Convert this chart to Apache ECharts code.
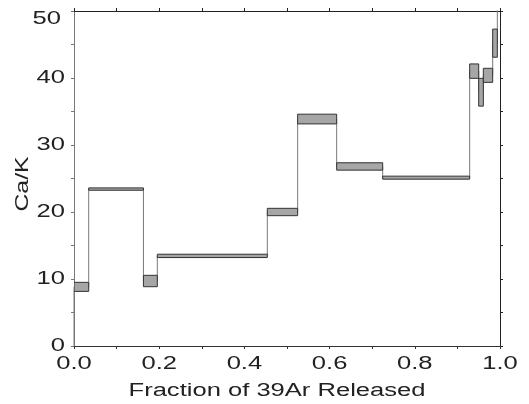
<!DOCTYPE html>
<html><head><meta charset="utf-8">
<script src="https://cdn.jsdelivr.net/npm/echarts@6/dist/echarts.min.js"></script>
<style>html,body{margin:0;padding:0;background:#fff}#c{width:529px;height:404px}</style>
</head><body><div id="c"></div>
<script>
// Step boundaries (cumulative fraction of 39Ar released)
var stepStart = [0, 0.0345, 0.163, 0.1956, 0.4538, 0.525, 0.6166, 0.7246, 0.9288, 0.950, 0.9609, 0.9828, 0.9937];
var stepEnd   = [0.0345, 0.163, 0.1956, 0.4538, 0.525, 0.6166, 0.7246, 0.9288, 0.950, 0.9609, 0.9828, 0.9937, 1.0];
// Ca/K upper and lower bounds for each step
var caKHigh = [9.5, 23.6, 10.55, 13.7, 20.55, 34.6, 27.35, 25.35, 42.1, 39.95, 41.45, 47.3, 62];
var caKLow  = [8.15, 23.25, 8.85, 13.2, 19.45, 33.15, 26.25, 24.9, 39.95, 35.8, 39.35, 43.1, 58];
// Tick labels
var xTickValues = [0, 0.2, 0.4, 0.6, 0.8, 1.0];
var xTickLabels = ['0.0', '0.2', '0.4', '0.6', '0.8', '1.0'];
var yTickValues = [0, 10, 20, 30, 40, 50];
var yTickLabels = ['0', '10', '20', '30', '40', '50'];
var xAxisTitle = 'Fraction of 39Ar Released';
var yAxisTitle = 'Ca/K';

var boxData = stepStart.map(function (s, i) { return [s, stepEnd[i], caKLow[i], caKHigh[i]]; });
var lineData = [[0, 0]];
stepStart.forEach(function (s, i) {
  var m = (caKLow[i] + caKHigh[i]) / 2;
  lineData.push([s, m]); lineData.push([stepEnd[i], m]);
});

var font = 'Liberation Sans';
var fs = 18, sx = 1.42, txtColor = '#222';
var chart = echarts.init(document.getElementById('c'));
function ax(color) {
  return {
    axisLine: { show: true, onZero: false, lineStyle: { color: color, width: 1 } },
    axisTick: { show: true, inside: false, length: 3, lineStyle: { color: color } },
    axisLabel: { show: false },
    splitLine: { show: false }
  };
}
chart.setOption({
  animation: false,
  grid: { left: 74, right: 29, top: 11, bottom: 58 },
  xAxis: [
    Object.assign(ax('#333'), { type: 'value', min: 0, max: 1, interval: 0.1, position: 'bottom' }),
    Object.assign(ax('#222'), { type: 'value', min: 0, max: 1, interval: 0.1, position: 'top' })
  ],
  yAxis: [
    Object.assign(ax('#777'), { type: 'value', min: 0, max: 50, interval: 5, position: 'left' }),
    Object.assign(ax('#222'), { type: 'value', min: 0, max: 50, interval: 5, position: 'right' })
  ],
  series: [
    {
      type: 'line', data: lineData, showSymbol: false, clip: true,
      lineStyle: { color: '#7a7a7a', width: 1 }, z: 1
    },
    {
      type: 'custom', data: boxData, clip: true, z: 2,
      renderItem: function (params, api) {
        var p0 = api.coord([api.value(0), api.value(3)]);
        var p1 = api.coord([api.value(1), api.value(2)]);
        var rect = echarts.graphic.clipRectByRect(
          { x: p0[0], y: p0[1], width: p1[0] - p0[0], height: p1[1] - p0[1] },
          { x: params.coordSys.x, y: params.coordSys.y, width: params.coordSys.width, height: params.coordSys.height });
        if (!rect) return null;
        return { type: 'rect', shape: rect,
          style: { fill: '#a6a6a6', stroke: '#333', lineWidth: 1 } };
      }
    }
  ]
});

// Text labels (stretched horizontally to match the original's wide lettering)
var g = [];
var axisY = chart.convertToPixel({ yAxisIndex: 0 }, 0);
var axisX = chart.convertToPixel({ xAxisIndex: 0 }, 0);
xTickValues.forEach(function (v, i) {
  var px = chart.convertToPixel({ xAxisIndex: 0 }, v);
  g.push({ type: 'text', x: px, y: axisY + 18, scaleX: sx,
    style: { text: xTickLabels[i], font: fs + 'px "' + font + '"', fill: txtColor, align: 'center', verticalAlign: 'middle' } });
});
yTickValues.forEach(function (v, i) {
  var py = chart.convertToPixel({ yAxisIndex: 0 }, v);
  var top = i === yTickValues.length - 1;
  g.push({ type: 'text', x: axisX - (top ? 13 : 9), y: py + (top ? 8 : 0), scaleX: sx,
    style: { text: yTickLabels[i], font: fs + 'px "' + font + '"', fill: txtColor, align: 'right', verticalAlign: 'middle' } });
});
g.push({ type: 'text', x: 277, y: axisY + 45, scaleX: sx,
  style: { text: xAxisTitle, font: fs + 'px "' + font + '"', fill: txtColor, align: 'center', verticalAlign: 'middle' } });
g.push({ type: 'text', x: 23, y: 184, rotation: Math.PI / 2, scaleX: 1.38,
  style: { text: yAxisTitle, font: fs + 'px "' + font + '"', fill: txtColor, align: 'center', verticalAlign: 'middle' } });
chart.setOption({ graphic: { elements: g } });
</script></body></html>
